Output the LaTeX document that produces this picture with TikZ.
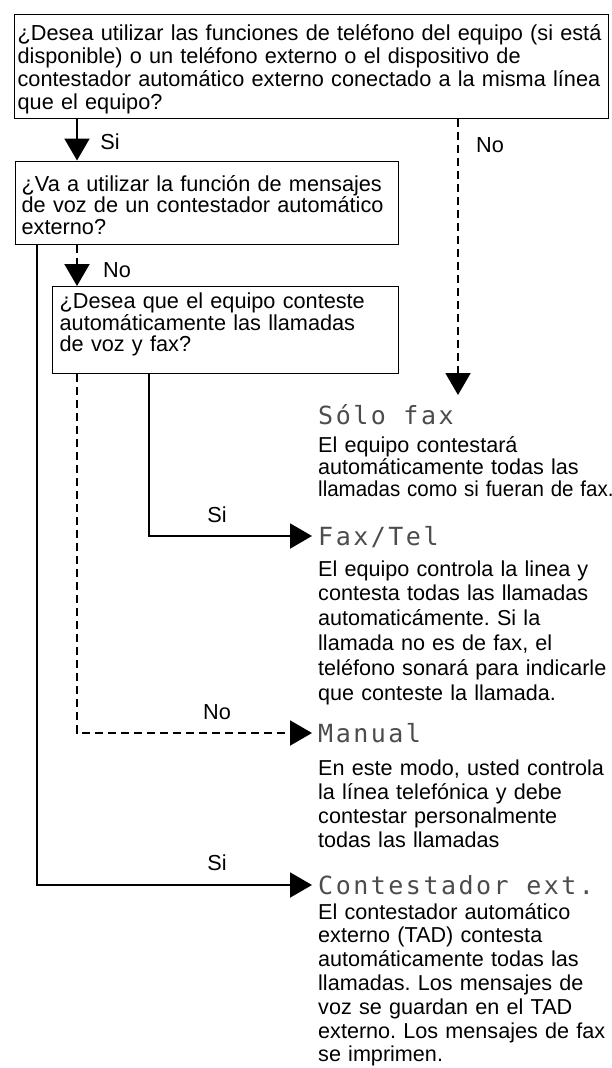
\documentclass[tikz,border=0pt]{standalone}
\usepackage{fontspec}
\usepackage{graphicx}
\setmainfont{Liberation Sans}
\newfontfamily\lcdfont[LetterSpace=10]{DejaVu Sans Mono}
\usetikzlibrary{arrows.meta}
\newcommand{\fsz}[1]{\fontsize{21.7}{#1}\selectfont}
\newcommand{\dsz}[1]{\fontsize{21.6}{#1}\selectfont}
\begin{document}
\frenchspacing
\begin{tikzpicture}[x=1pt,y=-1pt,
  every node/.style={font=\fsz{22}},
  qbox/.style={draw=black, line width=1.3pt, anchor=north west, align=left, inner ysep=0pt},
  title/.style={anchor=west, inner xsep=6pt, inner ysep=0pt, font=\lcdfont\fontsize{25}{25}\selectfont, text=black!70, text height=18pt, text depth=0pt},
  desc/.style={anchor=base west, inner sep=0pt, align=left, text width=400pt},
  lbl/.style={inner sep=0pt},
  yesline/.style={line width=2pt, -{Triangle[length=22pt,width=25pt]}},
  noline/.style={line width=2pt, dash pattern=on 8pt off 5pt, -{Triangle[length=22pt,width=25pt]}},
]
\useasboundingbox (0,0) rectangle (612,1068);

\node[qbox, font=\fsz{23}, inner xsep=3pt, text width=588pt, text height=26pt, text depth=78pt] (q1) at (14,14)
  {¿Desea utilizar las funciones de teléfono del equipo (si está\\
   disponible) o un teléfono externo o el dispositivo de\\
   contestador automático externo conectado a la misma línea\\
   que el equipo?};
\node[qbox, font=\fsz{21.5}, inner xsep=6pt, text width=371pt, text height=30pt, text depth=53.5pt] (q2) at (15,160.5)
  {¿Va a utilizar la función de mensajes\\
   de voz de un contestador automático\\
   externo?};
\node[qbox, font=\fsz{21.5}, inner xsep=7pt, text width=332pt, text height=22pt, text depth=65pt] (q3) at (52,286)
  {¿Desea que el equipo conteste\\
   automáticamente las llamadas\\
   de voz y fax?};

\coordinate (c37) at (37,0);
\coordinate (c77) at (77,0);
\coordinate (c149) at (149,0);
\coordinate (c458) at (458,0);
\coordinate (tipA) at (458,395);

\node[title] (solo) at (312,415) {Sólo fax};
\node[desc, font=\dsz{22}] (d1) at (318,452)
  {El equipo contestará\\
   automáticamente todas las\\
   \scalebox{0.95}[1]{llamadas como si fueran de fax.}};
\node[title] (faxtel) at (312,536) {Fax/Tel};
\node[desc, font=\dsz{24.8}] (d2) at (318,576)
  {El equipo controla la linea y\\
   contesta todas las llamadas\\
   automaticámente. Si la\\
   llamada no es de fax, el\\
   teléfono sonará para indicarle\\
   que conteste la llamada.};
\node[title] (manual) at (312,733) {Manual};
\node[desc, font=\dsz{24}] (d3) at (318,775)
  {En este modo, usted controla\\
   la línea telefónica y debe\\
   contestar personalmente\\
   todas las llamadas};
\node[title] (cont) at (312,885) {Contestador ext.};
\node[desc, font=\dsz{23.8}] (d4) at (318,919)
  {El contestador automático\\
   externo (TAD) contesta\\
   automáticamente todas las\\
   llamadas. Los mensajes de\\
   voz se guardan en el TAD\\
   externo. Los mensajes de fax\\
   se imprimen.};

\node[lbl] (s1) at (110,142) {Si};
\node[lbl] (n1) at (490,145) {No};
\node[lbl] (n2) at (117,270) {No};
\node[lbl] (s2) at (217,515) {Si};
\node[lbl] (n3) at (217,712) {No};
\node[lbl] (s3) at (217,863) {Si};

\draw[yesline] (q1.south -| c77) -- (q2.north -| c77);
\draw[noline] (q1.south -| c458) -- (tipA);
\draw[noline] (q2.south -| c77) -- (q3.north -| c77);
\draw[yesline] (q2.south -| c37) |- (cont.west);
\draw[yesline] (q3.south -| c149) |- (faxtel.west);
\draw[noline] (q3.south -| c77) |- (manual.west);
\end{tikzpicture}
\end{document}
